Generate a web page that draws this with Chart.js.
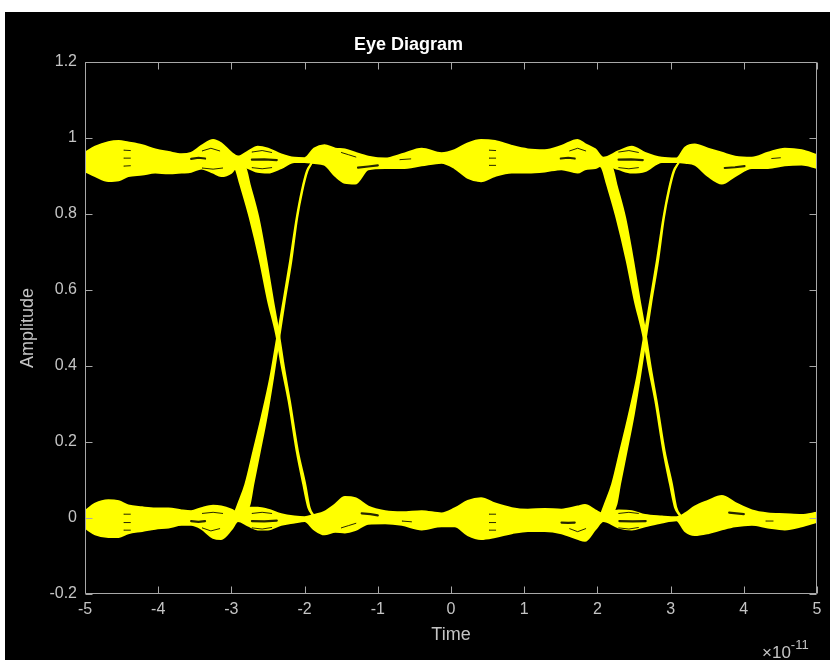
<!DOCTYPE html>
<html>
<head>
<meta charset="utf-8">
<script src="https://cdn.jsdelivr.net/npm/chart.js@4.4.1/dist/chart.umd.min.js"></script>
<style>
  html, body { margin:0; padding:0; background:#ffffff; width:830px; height:660px; overflow:hidden; }
  #bg { position:absolute; left:5px; top:12px; width:825px; height:648px; background:#000000; }
  #c { position:absolute; left:0; top:0; }
  #mult { position:absolute; left:762px; top:638px; color:#c4c4c4; font-family:"Liberation Sans", Arial, sans-serif; font-size:17px; line-height:18px; white-space:nowrap; }
  #mult sup { font-size:13px; position:relative; top:-2px; }
</style>
</head>
<body>
<div id="bg"></div>
<canvas id="c" width="830" height="660"></canvas>
<div id="mult">&times;10<sup>-11</sup></div>
<script>
// ---- Data (time in units of 1e-11 s, amplitude) ----
const chartTitle = 'Eye Diagram';
const xLabel = 'Time';
const yLabel = 'Amplitude';

// sample times for the two rails
const railTime = [-5.0, -4.86, -4.68, -4.54, -4.41, -4.22, -4.04, -3.86, -3.68, -3.55, -3.41, -3.25, -3.14, -3.0, -2.91, -2.77, -2.64, -2.50, -2.32, -2.14, -2.0, -1.87, -1.73, -1.58, -1.45, -1.31, -1.13, -0.90, -0.67, -0.40, -0.13, 0.05, 0.23, 0.41, 0.60, 0.83, 1.05, 1.28, 1.51, 1.73, 1.83, 1.97, 2.08, 2.29, 2.47, 2.65, 2.88, 3.08, 3.20, 3.33, 3.51, 3.70, 3.88, 4.11, 4.33, 4.56, 4.79, 5.0];

// high ("1") rail: upper and lower edge of the trace bundle
const highUpper = [0.961, 0.977, 0.989, 0.992, 0.988, 0.981, 0.970, 0.963, 0.957, 0.961, 0.979, 0.995, 0.986, 0.961, 0.951, 0.965, 0.977, 0.972, 0.957, 0.948, 0.947, 0.972, 0.981, 0.972, 0.970, 0.961, 0.951, 0.946, 0.957, 0.972, 0.960, 0.968, 0.986, 0.995, 0.992, 0.979, 0.970, 0.968, 0.979, 0.995, 0.984, 0.970, 0.948, 0.965, 0.977, 0.961, 0.948, 0.946, 0.975, 0.983, 0.972, 0.961, 0.951, 0.948, 0.961, 0.972, 0.968, 0.955];
const highLower = [0.913, 0.900, 0.887, 0.889, 0.900, 0.904, 0.909, 0.907, 0.909, 0.911, 0.920, 0.909, 0.900, 0.909, 0.928, 0.921, 0.911, 0.909, 0.921, 0.937, 0.937, 0.934, 0.930, 0.900, 0.882, 0.880, 0.918, 0.921, 0.921, 0.928, 0.935, 0.921, 0.895, 0.886, 0.900, 0.909, 0.909, 0.912, 0.918, 0.909, 0.918, 0.921, 0.930, 0.918, 0.909, 0.913, 0.937, 0.937, 0.935, 0.930, 0.900, 0.880, 0.900, 0.921, 0.921, 0.928, 0.930, 0.921];

// low ("0") rail: upper and lower edge of the trace bundle
const lowUpper = [0.018, 0.038, 0.047, 0.044, 0.033, 0.028, 0.025, 0.025, 0.020, 0.018, 0.026, 0.032, 0.030, 0.022, 0.014, 0.027, 0.027, 0.022, 0.010, 0.004, 0.002, 0.008, 0.016, 0.036, 0.055, 0.052, 0.030, 0.018, 0.015, 0.018, 0.012, 0.025, 0.045, 0.052, 0.038, 0.026, 0.022, 0.024, 0.022, 0.030, 0.034, 0.020, 0.010, 0.020, 0.018, 0.008, 0.004, 0.002, 0.012, 0.030, 0.045, 0.058, 0.040, 0.020, 0.012, 0.010, 0.008, 0.014];
const lowLower = [-0.026, -0.043, -0.050, -0.050, -0.040, -0.034, -0.028, -0.025, -0.018, -0.018, -0.028, -0.052, -0.055, -0.030, -0.008, -0.020, -0.030, -0.030, -0.018, -0.012, -0.008, -0.030, -0.043, -0.036, -0.038, -0.032, -0.015, -0.014, -0.018, -0.030, -0.022, -0.022, -0.045, -0.055, -0.050, -0.040, -0.034, -0.034, -0.040, -0.055, -0.060, -0.030, -0.008, -0.025, -0.030, -0.022, -0.012, -0.006, -0.035, -0.045, -0.040, -0.030, -0.022, -0.018, -0.025, -0.030, -0.022, -0.010];

// falling transitions (1 -> 0): earliest and latest traces of the bundle
const fallEarlyV = [0.935, 0.922, 0.878, 0.79, 0.676, 0.571, 0.484, 0.396, 0.308, 0.176, 0.089, 0.027, 0.005];
const fallLateV  = [0.935, 0.93, 0.922, 0.878, 0.79, 0.676, 0.571, 0.484, 0.396, 0.308, 0.176, 0.089, 0.027, 0.005];
const fallEarlyA = [-3.06, -2.95, -2.88, -2.75, -2.61, -2.50, -2.39, -2.31, -2.22, -2.11, -2.02, -1.95, -1.88];
const fallLateA  = [-3.06, -2.90, -2.81, -2.75, -2.63, -2.52, -2.43, -2.35, -2.28, -2.20, -2.09, -1.99, -1.93, -1.87];
const fallEarlyB = [1.95, 2.06, 2.13, 2.26, 2.40, 2.51, 2.62, 2.70, 2.79, 2.90, 2.99, 3.06, 3.13];
const fallLateB  = [1.95, 2.11, 2.20, 2.26, 2.38, 2.49, 2.58, 2.66, 2.73, 2.81, 2.92, 3.02, 3.08, 3.14];

// rising transitions (0 -> 1): earliest and latest traces of the bundle
const riseEarlyV = [0.005, 0.036, 0.089, 0.176, 0.264, 0.369, 0.47, 0.571, 0.676, 0.79, 0.861, 0.913, 0.935];
const riseLateV  = [0.0, 0.005, 0.036, 0.089, 0.176, 0.264, 0.369, 0.47, 0.571, 0.676, 0.79, 0.861, 0.913, 0.935];
const riseEarlyA = [-2.97, -2.91, -2.81, -2.70, -2.59, -2.47, -2.38, -2.29, -2.20, -2.11, -2.04, -1.97, -1.90];
const riseLateA  = [-2.97, -2.85, -2.75, -2.70, -2.61, -2.52, -2.43, -2.35, -2.27, -2.18, -2.10, -2.03, -1.96, -1.90];
const riseEarlyB = [2.04, 2.10, 2.20, 2.31, 2.42, 2.54, 2.63, 2.72, 2.81, 2.90, 2.97, 3.04, 3.11];
const riseLateB  = [2.04, 2.16, 2.26, 2.31, 2.40, 2.49, 2.58, 2.66, 2.74, 2.83, 2.91, 2.98, 3.05, 3.11];

// dark gaps between trace families inside the rails: [time, amplitude] polylines
const thinGaps = [
  [[-4.47, 0.968], [-4.38, 0.967]], [[-4.47, 0.947], [-4.38, 0.947]], [[-4.47, 0.926], [-4.38, 0.927]],
  [[-3.40, 0.966], [-3.28, 0.973], [-3.16, 0.966]], [[-3.40, 0.921], [-3.25, 0.918], [-3.12, 0.921]],
  [[-2.72, 0.963], [-2.58, 0.967], [-2.45, 0.962]], [[-2.72, 0.922], [-2.58, 0.919], [-2.45, 0.922]],
  [[-1.50, 0.962], [-1.40, 0.956], [-1.30, 0.950]], [[-0.70, 0.943], [-0.55, 0.945]],
  [[0.52, 0.968], [0.61, 0.967]], [[0.52, 0.947], [0.61, 0.947]], [[0.52, 0.928], [0.61, 0.928]],
  [[1.62, 0.966], [1.73, 0.973], [1.84, 0.966]],
  [[2.29, 0.963], [2.43, 0.967], [2.56, 0.962]], [[2.29, 0.922], [2.43, 0.919], [2.56, 0.922]],
  [[4.38, 0.946], [4.50, 0.948]],
  [[-4.47, 0.010], [-4.38, 0.010]], [[-4.47, -0.012], [-4.38, -0.012]], [[-4.47, -0.032], [-4.38, -0.032]],
  [[-3.40, 0.012], [-3.25, 0.015], [-3.12, 0.012]], [[-3.40, -0.026], [-3.28, -0.034], [-3.16, -0.028]],
  [[-2.72, 0.012], [-2.58, 0.015], [-2.45, 0.012]], [[-2.72, -0.026], [-2.58, -0.029], [-2.45, -0.025]],
  [[-1.50, -0.026], [-1.40, -0.020], [-1.30, -0.014]], [[-0.67, -0.008], [-0.54, -0.010]],
  [[0.52, 0.010], [0.61, 0.010]], [[0.52, -0.012], [0.61, -0.012]], [[0.52, -0.032], [0.61, -0.032]],
  [[1.62, -0.028], [1.73, -0.036], [1.84, -0.028]],
  [[2.29, 0.012], [2.43, 0.015], [2.56, 0.012]], [[2.29, -0.026], [2.43, -0.029], [2.56, -0.025]],
  [[4.30, -0.008], [4.40, -0.008]]
];
const lensGaps = [
  [[-3.55, 0.945], [-3.45, 0.948], [-3.36, 0.946]], [[-2.72, 0.943], [-2.55, 0.944], [-2.38, 0.942]],
  [[-1.27, 0.922], [-1.13, 0.925], [-1.00, 0.928]], [[1.50, 0.946], [1.60, 0.948], [1.69, 0.946]],
  [[2.29, 0.943], [2.46, 0.944], [2.62, 0.942]], [[3.74, 0.921], [3.88, 0.923], [4.01, 0.926]],
  [[-3.55, -0.008], [-3.45, -0.010], [-3.36, -0.008]], [[-2.72, -0.008], [-2.55, -0.009], [-2.38, -0.007]],
  [[-1.22, 0.012], [-1.10, 0.010], [-1.00, 0.007]], [[1.51, -0.012], [1.60, -0.013], [1.69, -0.012]],
  [[2.30, -0.008], [2.48, -0.009], [2.66, -0.008]], [[3.80, 0.014], [3.90, 0.012], [4.00, 0.010]]
];

const xTickMin = -5, xTickMax = 5, xTickStep = 1;
const yTickMin = -0.2, yTickMax = 1.2, yTickStep = 0.2;

// ---- build datasets ----
const YELLOW = '#ffff00';
function pts(xs, ys) { return xs.map((x, i) => ({ x: x, y: ys[i] })); }
// order: higher values are drawn first (underneath)
function edge(label, data, fill, width, order) {
  return {
    label: label, data: data, showLine: true, pointRadius: 0, pointHoverRadius: 0,
    borderColor: YELLOW, backgroundColor: YELLOW, borderWidth: width,
    cubicInterpolationMode: 'monotone', fill: fill, clip: 0, order: order
  };
}
function gapData(list) {
  const out = [];
  list.forEach(seg => {
    seg.forEach(p => out.push({ x: p[0], y: p[1] }));
    out.push({ x: seg[seg.length - 1][0], y: null });
  });
  return out;
}
function gapSet(label, list, width) {
  return {
    label: label, data: gapData(list), showLine: true, spanGaps: false,
    pointRadius: 0, pointHoverRadius: 0, borderColor: 'rgba(0,0,0,0.85)', borderWidth: width,
    borderCapStyle: 'round', tension: 0, fill: false, clip: 0, order: 1
  };
}
const datasets = [
  edge('high upper', pts(railTime, highUpper), false, 2, 3),
  edge('high lower', pts(railTime, highLower), '-1', 2, 3),
  edge('low upper', pts(railTime, lowUpper), false, 2, 3),
  edge('low lower', pts(railTime, lowLower), '-1', 2, 3),
  gapSet('gaps', thinGaps, 1.0),
  gapSet('gaps wide', lensGaps, 2.2),
  edge('fall A early', pts(fallEarlyA, fallEarlyV), false, 1.8, 0),
  edge('fall A late', pts(fallLateA, fallLateV), '-1', 1.8, 0),
  edge('rise A early', pts(riseEarlyA, riseEarlyV), false, 1.8, 0),
  edge('rise A late', pts(riseLateA, riseLateV), '-1', 1.8, 0),
  edge('fall B early', pts(fallEarlyB, fallEarlyV), false, 1.8, 0),
  edge('fall B late', pts(fallLateB, fallLateV), '-1', 1.8, 0),
  edge('rise B early', pts(riseEarlyB, riseEarlyV), false, 1.8, 0),
  edge('rise B late', pts(riseLateB, riseLateV), '-1', 1.8, 0)
];

const AXIS = '#a8a8a8';
const TEXT = '#c4c4c4';
const FONT = '"Liberation Sans", Arial, Helvetica, sans-serif';

const axesBox = {
  id: 'axesBox',
  afterDatasetsDraw(chart) {
    const { ctx, chartArea: { left, right, top, bottom }, scales: { x, y } } = chart;
    const L = Math.round(left) + 0.5, R = Math.round(right) - 0.5;
    const T = Math.round(top) + 0.5, B = Math.round(bottom) - 0.5;
    ctx.save();
    ctx.strokeStyle = AXIS;
    ctx.lineWidth = 1;
    ctx.beginPath();
    ctx.rect(L, T, R - L, B - T);
    const tl = 7;
    x.ticks.forEach(t => {
      const px = Math.round(x.getPixelForValue(t.value)) + 0.5;
      ctx.moveTo(px, B); ctx.lineTo(px, B - tl);
      ctx.moveTo(px, T); ctx.lineTo(px, T + tl);
    });
    y.ticks.forEach(t => {
      const py = Math.round(y.getPixelForValue(t.value)) + 0.5;
      ctx.moveTo(L, py); ctx.lineTo(L + tl, py);
      ctx.moveTo(R, py); ctx.lineTo(R - tl, py);
    });
    ctx.stroke();
    ctx.restore();
  }
};

new Chart(document.getElementById('c'), {
  type: 'scatter',
  data: { datasets: datasets },
  options: {
    responsive: false,
    animation: false,
    devicePixelRatio: 1,
    layout: { padding: { left: 0, right: 13, top: 0, bottom: 0 } },
    plugins: {
      legend: { display: false },
      tooltip: { enabled: false },
      title: {
        display: true, text: chartTitle, color: '#ffffff',
        font: { family: FONT, size: 18, weight: 'bold' },
        padding: { top: 34, bottom: 6.4 }
      }
    },
    scales: {
      x: {
        type: 'linear', min: xTickMin, max: xTickMax,
        grid: { display: false, drawTicks: false, tickLength: 0 },
        border: { display: false },
        ticks: { stepSize: xTickStep, color: TEXT, padding: 6, maxRotation: 0,
                 font: { family: FONT, size: 16 }, callback: v => String(v) },
        title: { display: true, text: xLabel, color: TEXT, font: { family: FONT, size: 18 },
                 padding: { top: 0, bottom: 14 } },
        afterFit(scale) { scale.height = 66; }
      },
      y: {
        type: 'linear', min: yTickMin, max: yTickMax,
        grid: { display: false, drawTicks: false, tickLength: 0 },
        border: { display: false },
        ticks: { stepSize: yTickStep, color: TEXT, padding: 8,
                 font: { family: FONT, size: 16 }, callback: v => String(Number(v.toFixed(1))) },
        title: { display: true, text: yLabel, color: TEXT, font: { family: FONT, size: 18 },
                 padding: { top: 17, bottom: 0 } },
        afterFit(scale) { scale.width = 85; }
      }
    }
  },
  plugins: [axesBox]
});
</script>
</body>
</html>
